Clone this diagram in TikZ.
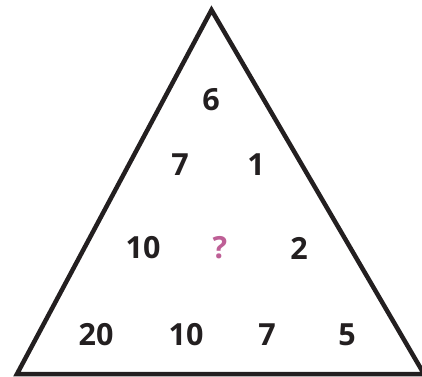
\documentclass[tikz,border=0pt]{standalone}
\usepackage{fontspec}
\setmainfont{Open Sans}
\definecolor{qpink}{RGB}{190,95,150}
\definecolor{ink}{RGB}{35,31,32}
\begin{document}
\begin{tikzpicture}[x=1pt,y=1pt,
  num/.style={font=\fontsize{30.5}{33}\selectfont\bfseries, text=ink, inner sep=0pt, anchor=center},
  tri/.style={draw=ink, line width=4.5pt, line join=miter}]
\useasboundingbox (0,0) rectangle (422,376);
\begin{scope}
\clip (0,0) rectangle (422,376);
\coordinate (apex) at (211.5,366);
\coordinate (bl) at (17,2);
\coordinate (br) at (424,2);
\draw[tri] (apex) -- (bl) -- (br) -- cycle;
\end{scope}
\node[num] (a) at (211,276) {6};
\node[num] (b1) at (180,211) {7};
\node[num] (b2) at (256,211) {1};
\node[num] (c1) at (143,128) {10};
\node[num, text=qpink] (c2) at (220,128) {?};
\node[num] (c3) at (299,128) {2};
\node[num] (d1) at (96,41) {20};
\node[num] (d2) at (186,41) {10};
\node[num] (d3) at (267,41) {7};
\node[num] (d4) at (347,41) {5};
\end{tikzpicture}
\end{document}
